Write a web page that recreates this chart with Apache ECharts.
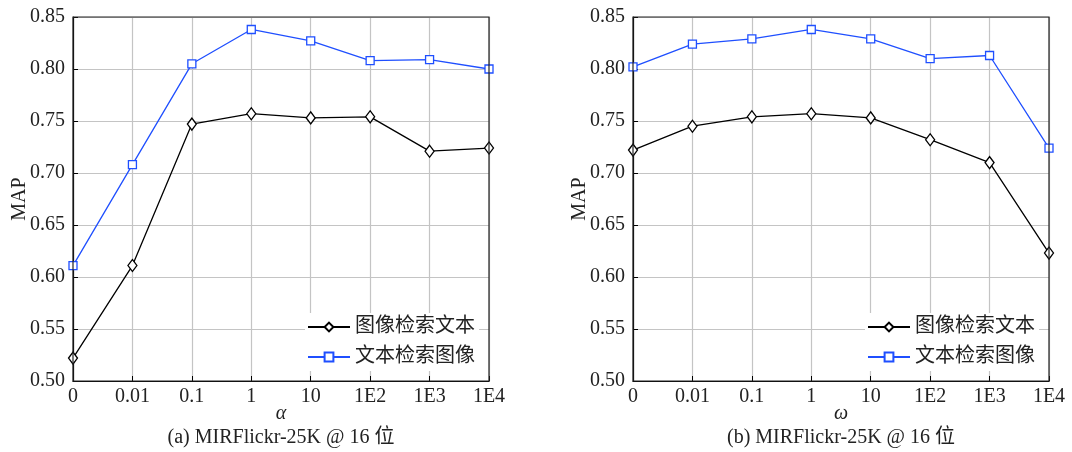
<!DOCTYPE html>
<html><head><meta charset="utf-8">
<script src="https://cdn.jsdelivr.net/npm/echarts@6/dist/echarts.min.js"></script>
<style>html,body{margin:0;padding:0;background:#fff;}#c{width:1072px;height:452px;}</style>
</head><body><div id="c"></div>
<script>
var categories = ['0','0.01','0.1','1','10','1E2','1E3','1E4'];
var seriesNames = ['图像检索文本','文本检索图像'];
var aImgToText = [0.522,0.611,0.747,0.757,0.753,0.754,0.721,0.724];
var aTextToImg = [0.611,0.708,0.805,0.838,0.827,0.808,0.809,0.800];
var bImgToText = [0.722,0.745,0.754,0.757,0.753,0.732,0.710,0.623];
var bTextToImg = [0.802,0.824,0.829,0.838,0.829,0.810,0.813,0.724];
var xNames = ['α','ω'];
var captions = ['(a) MIRFlickr-25K @ 16 位','(b) MIRFlickr-25K @ 16 位'];
var yTicks = [0.50,0.55,0.60,0.65,0.70,0.75,0.80,0.85];

var serif = '"Liberation Serif","Times New Roman",serif';
var cjk = '"Liberation Serif","Noto Sans CJK SC",serif';
var chart = echarts.init(document.getElementById('c'));
var grids = [{left:73,right:583,top:17,bottom:71},{left:633,right:23,top:17,bottom:71}];
function xAx(i){return {type:'category',gridIndex:i,data:categories,boundaryGap:false,
  name:xNames[i],nameLocation:'middle',nameGap:23,nameMoveOverlap:false,
  nameTextStyle:{fontFamily:serif,fontStyle:'italic',fontSize:20,color:'#222'},
  axisLine:{lineStyle:{color:'#000',width:1.2}},
  axisTick:{show:true,inside:true,length:5,alignWithLabel:true,lineStyle:{color:'#000'}},
  axisLabel:{fontFamily:serif,fontSize:20,color:'#222',margin:6,interval:0},
  splitLine:{show:true,lineStyle:{color:'#c4c4c4',width:1.2}}};}
function yAx(i){return {type:'value',gridIndex:i,min:yTicks[0],max:yTicks[yTicks.length-1],interval:0.05,
  name:'MAP',nameLocation:'middle',nameGap:43,nameRotate:90,nameMoveOverlap:false,
  nameTextStyle:{fontFamily:serif,fontSize:20,color:'#222'},
  axisLine:{show:true,lineStyle:{color:'#000',width:1.2}},
  axisTick:{show:true,inside:true,length:5,lineStyle:{color:'#000'}},
  axisLabel:{fontFamily:serif,fontSize:20,color:'#222',margin:8,formatter:function(v){return v.toFixed(2);}},
  splitLine:{show:true,lineStyle:{color:'#c4c4c4',width:1.2}}};}
function ser(name,data,i,color,sym,size){return {type:'line',name:name,xAxisIndex:i,yAxisIndex:i,data:data,
  symbol:sym,symbolSize:size,showSymbol:true,
  lineStyle:{color:color,width:1.3},itemStyle:{color:'#fff',borderColor:color,borderWidth:1.3},
  emphasis:{disabled:true},animation:false};}
function leg(i,left){return {show:true,left:left,top:313,orient:'vertical',itemWidth:42,itemHeight:11,itemGap:10,
  backgroundColor:'#fff',padding:[4,4,4,2],data:seriesNames,
  textStyle:{fontFamily:cjk,fontSize:20,color:'#222'}};}
chart.setOption({
  animation:false,
  grid:grids,
  xAxis:[xAx(0),xAx(1)],
  yAxis:[yAx(0),yAx(1)],
  legend:[leg(0,305),leg(1,865)],
  graphic:[
    {type:'rect',shape:{x:73,y:17,width:416,height:364},style:{fill:'none',stroke:'#222',lineWidth:1.2},z:10,silent:true},
    {type:'rect',shape:{x:633,y:17,width:416,height:364},style:{fill:'none',stroke:'#222',lineWidth:1.2},z:10,silent:true},
    {type:'text',style:{text:captions[0],x:281,y:438,textAlign:'center',textVerticalAlign:'middle',font:'20px '+cjk,fill:'#222'}},
    {type:'text',style:{text:captions[1],x:841,y:438,textAlign:'center',textVerticalAlign:'middle',font:'20px '+cjk,fill:'#222'}}
  ],
  series:[
    ser(seriesNames[0],aImgToText,0,'#000','diamond',[9,12]),
    ser(seriesNames[1],aTextToImg,0,'#1f4fff','rect',8),
    ser(seriesNames[0],bImgToText,1,'#000','diamond',[9,12]),
    ser(seriesNames[1],bTextToImg,1,'#1f4fff','rect',8)
  ]
});
</script></body></html>
